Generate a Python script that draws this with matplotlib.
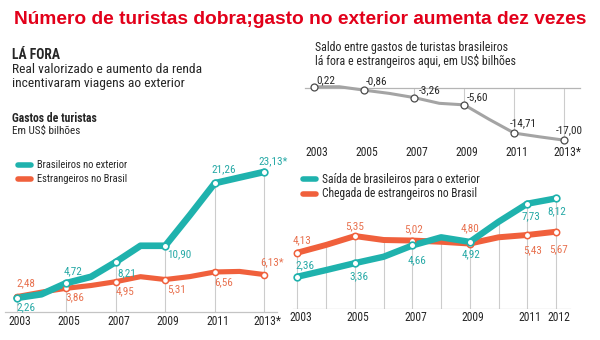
import matplotlib
matplotlib.use("Agg")
import matplotlib.pyplot as plt
from matplotlib import font_manager
from matplotlib.lines import Line2D
from matplotlib.transforms import ScaledTranslation

# ---------------------------------------------------------------- data
years = [2003, 2004, 2005, 2006, 2007, 2008, 2009, 2010, 2011, 2012, 2013]
label_years = [2003, 2005, 2007, 2009, 2011, 2013]
year_labels = ["2003", "2005", "2007", "2009", "2011", "2013*"]

# Gastos de turistas (US$ bilhões)
gasto_brasileiros = [2.26, 2.87, 4.72, 5.76, 8.21, 10.90, 10.90, 16.0, 21.26, 22.2, 23.13]
gasto_estrangeiros = [2.48, 3.22, 3.86, 4.32, 4.95, 5.78, 5.31, 5.80, 6.56, 6.65, 6.13]

# Saldo (estrangeiros aqui - brasileiros lá fora)
saldo = [0.22, 0.25, -0.86, -1.9, -3.26, -5.1, -5.60, -10.3, -14.71, -15.9, -17.00]

# Fluxo de turistas (milhões)
fluxo_years = [2003, 2004, 2005, 2006, 2007, 2008, 2009, 2010, 2011, 2012]
fluxo_label_years = [2003, 2005, 2007, 2009, 2011, 2012]
fluxo_year_labels = ["2003", "2005", "2007", "2009", "2011", "2012"]
saida_brasileiros = [2.36, 2.85, 3.36, 3.83, 4.66, 5.26, 4.92, 6.40, 7.73, 8.12]
chegada_estrangeiros = [4.13, 4.70, 5.35, 5.06, 5.02, 4.93, 4.80, 5.26, 5.43, 5.67]

# ---------------------------------------------------------------- style
TEAL = "#1fb2ad"
TEAL_TXT = "#26a9a6"
ORANGE = "#f0603c"
ORANGE_TXT = "#e8714f"
GREY_LINE = "#a4a4a4"
GRID = "#cccccc"
DARK = "#262626"
RED = "#e2001a"

available = {f.name for f in font_manager.fontManager.ttflist}
COND = "DejaVu Sans"
COND_STRETCH = "normal"
for cand in ["Liberation Sans Narrow", "Roboto Condensed", "Open Sans Condensed", "Noto Sans Condensed"]:
    if cand in available:
        COND = cand
        break
else:
    for f in font_manager.fontManager.ttflist:
        if f.name == "DejaVu Sans" and f.stretch == "condensed":
            COND_STRETCH = "condensed"
            break
    else:
        COND = "Lato"

FONT = dict(family=[COND, "DejaVu Sans"], fontstretch=COND_STRETCH)

W, H, DPI = 600, 340, 100
fig = plt.figure(figsize=(W / DPI, H / DPI), dpi=DPI)
fig.patch.set_facecolor("white")


def box(x0, y0, x1, y1):
    """Figure rectangle from pixel edges (y measured from the top)."""
    return [x0 / W, 1 - y1 / H, (x1 - x0) / W, (y1 - y0) / H]


def fx(px):
    return px / W


def fy(py):
    return 1 - py / H


def fmt(v, star=False):
    s = f"{v:.2f}".replace(".", ",")
    return s + ("*" if star else "")


def clean(ax):
    for s in ax.spines.values():
        s.set_visible(False)
    ax.set_yticks([])
    ax.patch.set_alpha(0)


def year_ticks(ax, ticks, labels, pad, size=8.4):
    ax.set_xticks(ticks, labels)
    ax.tick_params(axis="x", length=0, pad=pad, labelsize=size, labelcolor=DARK)
    for lab in ax.get_xticklabels():
        lab.set_fontfamily(FONT["family"])
        lab.set_fontstretch(COND_STRETCH)
        lab.set_transform(lab.get_transform() + ScaledTranslation(3 / DPI, 0, fig.dpi_scale_trans))


# ---------------------------------------------------------------- headings
fig.text(0.5, fy(19), "Número de turistas dobra;gasto no exterior aumenta dez vezes",
         ha="center", va="center", color=RED, fontsize=13.8, fontweight="bold",
         family="Liberation Sans")

fig.text(fx(12), fy(55), "LÁ FORA", ha="left", va="center", color=DARK,
         fontsize=9.8, fontweight="bold", **FONT)
fig.text(fx(12), fy(69.5), "Real valorizado e aumento da renda", ha="left", va="center",
         color=DARK, fontsize=9.7, **FONT)
fig.text(fx(12), fy(83.5), "incentivaram viagens ao exterior", ha="left", va="center",
         color=DARK, fontsize=9.7, **FONT)
fig.text(fx(12), fy(118.5), "Gastos de turistas", ha="left", va="center", color=DARK,
         fontsize=8.5, fontweight="bold", **FONT)
fig.text(fx(12), fy(131), "Em US$ bilhões", ha="left", va="center", color=DARK,
         fontsize=8.0, **FONT)

fig.text(fx(315), fy(47.5), "Saldo entre gastos de turistas brasileiros", ha="left",
         va="center", color=DARK, fontsize=8.6, **FONT)
fig.text(fx(315), fy(61), "lá fora e estrangeiros aqui, em US$ bilhões", ha="left",
         va="center", color=DARK, fontsize=8.6, **FONT)


def legend_entry(x, y, color, text, size):
    fig.add_artist(Line2D([fx(x), fx(x + 13)], [fy(y), fy(y)], color=color, lw=4.0,
                          solid_capstyle="round", transform=fig.transFigure))
    fig.text(fx(x + 19), fy(y), text, ha="left", va="center", color=DARK,
             fontsize=size, **FONT)


legend_entry(18, 165, TEAL, "Brasileiros no exterior", 7.6)
legend_entry(18, 179, ORANGE, "Estrangeiros no Brasil", 7.6)
legend_entry(303, 179, TEAL, "Saída de brasileiros para o exterior", 8.3)
legend_entry(303, 194, ORANGE, "Chegada de estrangeiros no Brasil", 8.3)

# ---------------------------------------------------------------- left chart: gastos
ax1 = fig.add_axes(box(0, 140, 285, 311.6))
clean(ax1)
ax1.set_xlim(2002.326, 2013.836)
ax1.set_ylim(0, 28.41)
ax1.axhline(0, xmin=5 / 285, xmax=277 / 285, color="#c4c4c4", lw=0.9, clip_on=False)

for yr in label_years:
    i = years.index(yr)
    ax1.vlines(yr, 0, max(gasto_brasileiros[i], gasto_estrangeiros[i]), color=GRID, lw=0.8, zorder=1)

ax1.plot(years, gasto_estrangeiros, color=ORANGE, lw=3.7, solid_joinstyle="round",
         solid_capstyle="round", zorder=3, clip_on=False)
ax1.plot(years, gasto_brasileiros, color=TEAL, lw=4.8, solid_joinstyle="round",
         solid_capstyle="round", zorder=4, clip_on=False)

mk = [years.index(y) for y in label_years]
ax1.plot(label_years, [gasto_estrangeiros[i] for i in mk], ls="none", marker="o", ms=4.4,
         mfc="white", mec=ORANGE, mew=1.1, zorder=5, clip_on=False)
ax1.plot(label_years, [gasto_brasileiros[i] for i in mk], ls="none", marker="o", ms=4.8,
         mfc="white", mec=TEAL, mew=1.2, zorder=6, clip_on=False)

# label offsets in pixels (dx, dy up)
teal_off1 = [(0, -9), (-3, 11.5), (2, -11), (2, -8.5), (-3, 14), (-6, 11)]
orange_off1 = [(0, 13), (-1, -9), (0, -10), (2, -10), (-1, -10), (-4, 12.5)]
for k, yr in enumerate(label_years):
    i = years.index(yr)
    star = yr == 2013
    for series, off, col in ((gasto_brasileiros, teal_off1, TEAL_TXT),
                             (gasto_estrangeiros, orange_off1, ORANGE_TXT)):
        dx, dy = off[k]
        ax1.annotate(fmt(series[i], star), (yr, series[i]), xytext=(dx * 0.72, dy * 0.72),
                     textcoords="offset points", ha="left", va="center", color=col,
                     fontsize=8.0, zorder=7, annotation_clip=False, **FONT)

year_ticks(ax1, label_years, year_labels, pad=2.4)

# ---------------------------------------------------------------- top right: saldo
ax2 = fig.add_axes(box(300, 70, 600, 145))
clean(ax2)
ax2.set_xlim(2002.428, 2014.428)
ax2.set_ylim(-18.55, 5.65)
ax2.axhline(0, xmin=5 / 300, xmax=280 / 300, color="#b5b5b5", lw=0.9)
for yr in label_years:
    i = years.index(yr)
    ax2.vlines(yr, 0, saldo[i], color=GRID, lw=0.8, zorder=1)
ax2.plot(years, saldo, color=GREY_LINE, lw=2.2, solid_joinstyle="round", zorder=3,
         clip_on=False)
ax2.plot(label_years, [saldo[i] for i in mk], ls="none", marker="o", ms=5.0, mfc="white",
         mec="#4a4a4a", mew=0.9, zorder=4, clip_on=False)
saldo_off = [(2, 7), (1, 9), (4, 7), (2, 8), (-5, 10), (-9, 10)]
for k, yr in enumerate(label_years):
    i = years.index(yr)
    dx, dy = saldo_off[k]
    ax2.annotate(fmt(saldo[i]), (yr, saldo[i]), xytext=(dx * 0.72, dy * 0.72),
                 textcoords="offset points", ha="left", va="center", color=DARK,
                 fontsize=8.0, zorder=5, annotation_clip=False, **FONT)
year_ticks(ax2, label_years, year_labels, pad=0.6)

# ---------------------------------------------------------------- bottom right: fluxo
ax3 = fig.add_axes(box(285, 150, 600, 308.8))
clean(ax3)
ax3.set_xlim(2002.565, 2013.53)
ax3.set_ylim(0, 11.68)
ax3.axhline(0, xmin=8 / 315, xmax=285 / 315, color="#c4c4c4", lw=0.9)
for i, yr in enumerate(fluxo_years):
    ax3.vlines(yr, 0, max(saida_brasileiros[i], chegada_estrangeiros[i]), color=GRID,
               lw=0.8, zorder=1)
ax3.plot(fluxo_years, chegada_estrangeiros, color=ORANGE, lw=4.3, solid_joinstyle="round",
         solid_capstyle="round", zorder=3, clip_on=False)
ax3.plot(fluxo_years, saida_brasileiros, color=TEAL, lw=4.6, solid_joinstyle="round",
         solid_capstyle="round", zorder=4, clip_on=False)
mk3 = [fluxo_years.index(y) for y in fluxo_label_years]
ax3.plot(fluxo_label_years, [chegada_estrangeiros[i] for i in mk3], ls="none", marker="o",
         ms=4.6, mfc="white", mec=ORANGE, mew=1.1, zorder=5, clip_on=False)
ax3.plot(fluxo_label_years, [saida_brasileiros[i] for i in mk3], ls="none", marker="o",
         ms=4.8, mfc="white", mec=TEAL, mew=1.2, zorder=6, clip_on=False)
teal_off3 = [(7, 11), (4, -13), (5, -15), (1, -12), (4, -13), (1, -13)]
orange_off3 = [(5, 12), (0, 9.5), (1, 11), (0, 15), (5, -15), (2, -18)]
for k, yr in enumerate(fluxo_label_years):
    i = fluxo_years.index(yr)
    for series, off, col in ((saida_brasileiros, teal_off3, TEAL_TXT),
                             (chegada_estrangeiros, orange_off3, ORANGE_TXT)):
        dx, dy = off[k]
        ax3.annotate(fmt(series[i]), (yr, series[i]), xytext=(dx * 0.72, dy * 0.72),
                     textcoords="offset points", ha="center", va="center", color=col,
                     fontsize=8.0, zorder=7, annotation_clip=False, **FONT)
year_ticks(ax3, fluxo_label_years, fluxo_year_labels, pad=1.8)

fig.savefig("out.png", dpi=DPI, facecolor="white")
